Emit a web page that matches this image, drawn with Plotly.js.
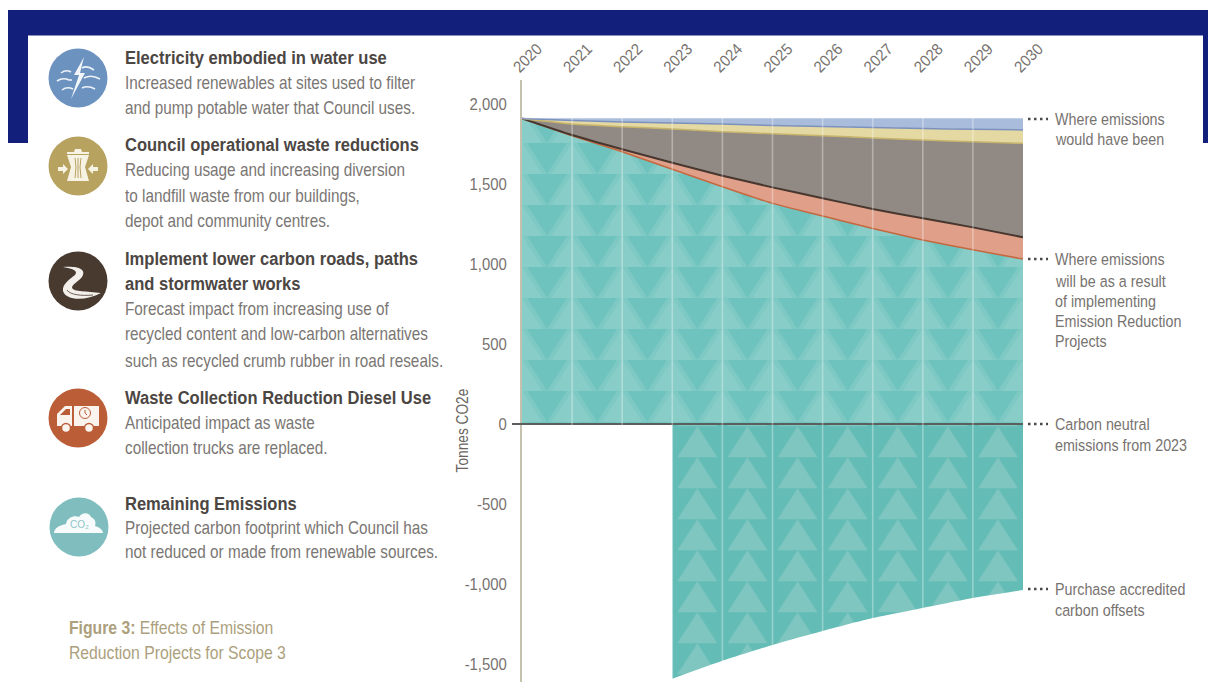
<!DOCTYPE html>
<html>
<head>
<meta charset="utf-8">
<title>Effects of Emission Reduction Projects for Scope 3</title>
<script src="https://cdn.plot.ly/plotly-3.0.1.min.js"></script>
<style>html,body{margin:0;padding:0;background:#fff;overflow:hidden}</style>
</head>
<body>
<div id="chart" style="width:1208px;height:682px"></div>
<script>
// Emission series, tonnes CO2e per year
const years = [2020, 2021, 2022, 2023, 2024, 2025, 2026, 2027, 2028, 2029, 2030];
const remainingEmissions = [1910, 1802, 1702, 1592, 1483, 1379, 1300, 1222, 1150, 1089, 1031];
const wasteCollection = [0, 4, 15, 41, 69, 100, 111, 122, 136, 140, 136];
const lowerCarbonRoads = [0, 69, 141, 211, 275, 335, 391, 444, 489, 535, 587];
const operationalWaste = [0, 22, 30, 37, 48, 52, 57, 65, 72, 78, 84];
const waterElectricity = [0, 13, 22, 29, 35, 44, 51, 57, 63, 68, 72];
const offsetYears = [2023, 2024, 2025, 2026, 2027, 2028, 2029, 2030];
const carbonOffsets = [-1592, -1480, -1381, -1294, -1213, -1150, -1088, -1038];

const yTickValues = [-1500, -1000, -500, 0, 500, 1000, 1500, 2000];
const yTickLabels = ['-1,500', '-1,000', '-500', '0', '500', '1,000', '1,500', '2,000'];

const legendHeadings = [
  'Electricity embodied in water use',
  'Council operational waste reductions',
  'Implement lower carbon roads, paths',
  'and stormwater works',
  'Waste Collection Reduction Diesel Use',
  'Remaining Emissions'
];
const legendBody = [
  'Increased renewables at sites used to filter',
  'and pump potable water that Council uses.',
  'Reducing usage and increasing diversion',
  'to landfill waste from our buildings,',
  'depot and community centres.',
  'Forecast impact from increasing use of',
  'recycled content and low-carbon alternatives',
  'such as recycled crumb rubber in road reseals.',
  'Anticipated impact as waste',
  'collection trucks are replaced.',
  'Projected carbon footprint which Council has',
  'not reduced or made from renewable sources.'
];
const captionLines = ['<b>Figure 3:</b> Effects of Emission', 'Reduction Projects for Scope 3'];
const sideNotes = [
  'Where emissions', 'would have been',
  'Where emissions', 'will be as a result', 'of implementing', 'Emission Reduction', 'Projects',
  'Carbon neutral', 'emissions from 2023',
  'Purchase accredited', 'carbon offsets'
];

// Page geometry
const W = 1208, H = 682;
const M = {l: 522, r: 185, t: 80, b: 0};
const plotW = W - M.l - M.r, plotH = H - M.t - M.b;
const px = x => (x - M.l) / plotW;
const py = y => 1 - (y - M.t) / plotH;

const FONT = '"Liberation Sans", sans-serif';
const NAVY = '#12207b';
const shapes = [];
const annotations = [];
// Horizontal condensing applied to each annotation once it is drawn
const condense = [];

function box(x0, y0, x1, y1, color) {
  shapes.push({type: 'rect', xref: 'paper', yref: 'paper', layer: 'below',
    x0: px(x0), x1: px(x1), y0: py(y0), y1: py(y1), fillcolor: color, line: {width: 0}});
}
function disc(cx, cy, r, fill, stroke, strokeW) {
  shapes.push({type: 'circle', xref: 'paper', yref: 'paper', layer: 'above',
    x0: px(cx - r), x1: px(cx + r), y0: py(cy - r), y1: py(cy + r), fillcolor: fill,
    line: {width: strokeW || 0, color: stroke || fill}});
}
// Icon paths are written around the icon's centre, in pixels
function glyph(cx, cy, d, fill, stroke, strokeW) {
  const path = d.replace(/(-?[\d.]+),(-?[\d.]+)/g, (m, a, b) => px(cx + (+a)) + ',' + py(cy + (+b)));
  shapes.push({type: 'path', xref: 'paper', yref: 'paper', layer: 'above', path,
    fillcolor: fill || 'rgba(0,0,0,0)', line: {width: strokeW || 0, color: stroke || 'rgba(0,0,0,0)'}});
}
function label(text, x, y, size, color, k) {
  annotations.push({text, xref: 'paper', yref: 'paper', x: px(x), y: py(y), xanchor: 'left', yanchor: 'middle',
    align: 'left', showarrow: false, borderpad: 0, font: {family: FONT, size, color}});
  condense.push(k);
}

// Navy frame around the top of the page
box(8, 10, 1208, 35.5, NAVY);
box(8, 35, 28, 143, NAVY);
box(1203, 35, 1208, 143, NAVY);

// Legend text
const headingY = [58, 145, 259, 284, 398, 504];
const bodyY = [83, 108, 170, 196, 221, 309, 334, 361, 423, 448, 528, 552];
legendHeadings.forEach((t, i) => label('<b>' + t + '</b>', 124, headingY[i], 17.5, '#4c4643', 0.945));
legendBody.forEach((t, i) => label(t, 124, bodyY[i], 17.5, '#7a7673', 0.875));
[628, 653].forEach((y, i) => label(captionLines[i], 68, y, 17.5, '#ac9f7d', 0.9));

// Notes to the right of the plot
const noteY = [119, 139, 259, 281, 301, 321, 341, 424, 445, 589, 610];
sideNotes.forEach((t, i) => label(t, 1054, noteY[i], 16.5, '#77736f', 0.868));
[119, 259, 424, 589].forEach(y => shapes.push({type: 'line', xref: 'paper', yref: 'paper', layer: 'above',
  x0: px(1028), x1: px(1048), y0: py(y), y1: py(y), line: {color: '#4a4a4a', width: 2.5, dash: '2.5px,3.5px'}}));

// Axis title, placed level with the zero line
annotations.push({text: 'Tonnes CO2e', xref: 'paper', yref: 'paper', x: px(462), y: py(431), textangle: -90,
  xanchor: 'center', yanchor: 'middle', showarrow: false, borderpad: 0,
  font: {family: FONT, size: 16.5, color: '#696460'}});
condense.push(0.83);

// Zero line, running a little past the axis on the left
shapes.push({type: 'line', xref: 'paper', yref: 'y', layer: 'above', x0: px(512), x1: 1, y0: 0, y1: 0,
  line: {color: '#5b5f5e', width: 2}});
// Year dividers across the filled areas
years.slice(1, -1).forEach(y => shapes.push({type: 'line', xref: 'x', yref: 'paper', layer: 'above',
  x0: y, x1: y, y0: 0, y1: py(118), line: {color: 'rgba(255,255,255,0.33)', width: 1.6}}));

// Icons
const BLUE = '#6c92c0', GOLD = '#b8a260', BROWN = '#493a30', RUST = '#bb5e38', TEAL = '#7fbdbf';
disc(78, 78, 29.5, BLUE);
glyph(78, 78, 'M 6,-21 L -4,-3 L 1,-3 L -7,21 L 7,-5 L 2,-5 Z', '#f2f6fb');
['M -17,-5 Q -12,-9 -7,-6', 'M -21,3 Q -15,-1 -9,2 L -6,2', 'M -16,12 Q -11,8 -5,11',
 'M 4,-10 Q 9,-13 16,-8', 'M 6,0 Q 13,-4 22,1', 'M 4,10 Q 10,7 17,11'].forEach(d => glyph(78, 78, d, null, '#eef3f9', 1.6));

disc(78, 166, 29.5, GOLD);
glyph(78, 166, 'M -11,-11 L 11,-11 L 7,1 L 11,15 L -11,15 L -7,1 Z', '#f6f2e4');
glyph(78, 166, 'M -11,-14 L 11,-14 L 11,-12 L -11,-12 Z M -4,-14 L -3,-17 L 3,-17 L 4,-14 Z', '#f6f2e4');
['M -3,-8 L -2,1 L -3,12', 'M 0,-8 L 0,12', 'M 3,-8 L 2,1 L 3,12'].forEach(d => glyph(78, 166, d, null, GOLD, 1));
glyph(78, 166, 'M -20,1 L -15,1 L -15,-2 L -10,3 L -15,8 L -15,5 L -20,5 Z', '#f6f2e4');
glyph(78, 166, 'M 20,1 L 15,1 L 15,-2 L 10,3 L 15,8 L 15,5 L 20,5 Z', '#f6f2e4');

disc(78, 281, 29.5, BROWN);
glyph(78, 281, 'M -15,-14 C 0,-15 9,-12 4,-4 C 0,1 -6,3 -6,7 C -4,11 8,10 23,12 C 8,20 -12,20 -15,10 C -16,3 -8,-2 -3,-6 C 0,-10 -4,-12 -15,-14 Z', '#f3f0ec');
glyph(78, 281, 'M -11,9 C -8,14 4,15 15,14', null, BROWN, 0.8);

disc(78, 418, 29.5, RUST);
glyph(78, 418, 'M -21,8 L -21,-4 L -13,-12 L -6,-12 L -6,8 Z M -4,-12 L 21,-12 L 21,8 L -4,8 Z', '#fbf3ee');
glyph(78, 418, 'M -18,-3 L -12,-9 L -8,-9 L -8,-3 Z', RUST);
disc(85, 413, 5.5, 'rgba(0,0,0,0)', RUST, 1);
glyph(85, 413, 'M 0,-3 L 0,0 L 2,2', null, RUST, 1);
disc(66, 428, 4.5, '#fbf3ee', RUST, 1.5);
disc(89, 428, 4.5, '#fbf3ee', RUST, 1.5);

disc(79, 527, 29.5, TEAL);
glyph(79, 527, 'M -25,6 C -25,1 -19,-2 -13,-3 C -12,-10 -4,-12 0,-10 C 3,-15 10,-15 12,-10 C 17,-8 17,-3 16,-1 C 20,0 24,3 24,6 Z', '#f7fbfb');
annotations.push({text: 'CO₂', xref: 'paper', yref: 'paper', x: px(79), y: py(524), xanchor: 'center', yanchor: 'middle',
  showarrow: false, borderpad: 0, font: {family: FONT, size: 10, color: '#8fc4c6'}});
condense.push(1);

// Stacked emission wedges; each trace's outline is the lower edge of the band above it
const stackTrace = (y, fill, edge, width) => ({
  x: years, y, type: 'scatter', mode: 'lines', stackgroup: 'emissions', fillcolor: fill,
  line: {color: edge, width: width, shape: 'spline', smoothing: 0.5}, hoverinfo: 'skip'
});
const traces = [
  stackTrace(remainingEmissions, '#7fc9c4', '#c4683f', 1.5),
  stackTrace(wasteCollection, '#df9f89', '#47372e', 2),
  stackTrace(lowerCarbonRoads, '#918a84', '#c6b36c', 1.5),
  stackTrace(operationalWaste, '#e4d9a2', '#7c91bd', 1.5),
  stackTrace(waterElectricity, '#a9bcdb', '#a9bcdb', 0.5),
  {x: offsetYears, y: carbonOffsets, type: 'scatter', mode: 'lines', fill: 'tozeroy',
   fillcolor: '#63bcb5', line: {width: 0, color: '#63bcb5', shape: 'spline', smoothing: 0.5}, hoverinfo: 'skip'}
];

const layout = {
  width: W, height: H, autosize: false, margin: M, showlegend: false, hovermode: false,
  paper_bgcolor: '#ffffff', plot_bgcolor: 'rgba(0,0,0,0)',
  font: {family: FONT},
  xaxis: {range: [2020, 2030], side: 'top', tickmode: 'array', tickvals: years, ticktext: years.map(String),
    tickangle: -45, ticks: '', showgrid: false, zeroline: false, showline: false, anchor: 'y',
    ticklabelshift: -8, ticklabelstandoff: 0, tickfont: {family: FONT, size: 16, color: '#77736f'}},
  yaxis: {range: [-1612.5, 2150], tickmode: 'array', tickvals: yTickValues, ticktext: yTickLabels,
    ticks: '', showgrid: false, zeroline: false, showline: true, linecolor: '#c4c1ae', linewidth: 2,
    ticklabelstandoff: 10, tickfont: {family: FONT, size: 16, color: '#77736f'}},
  shapes, annotations
};

// Triangle textures for the teal areas; tiles line up with the year columns
const SVGNS = 'http://www.w3.org/2000/svg';
function addPattern(defs, id, yOffset, bg, polys) {
  const tileW = plotW / 10, tileH = 31;
  const p = document.createElementNS(SVGNS, 'pattern');
  p.setAttribute('id', id);
  p.setAttribute('patternUnits', 'userSpaceOnUse');
  p.setAttribute('width', tileW);
  p.setAttribute('height', tileH);
  p.setAttribute('y', yOffset);
  const r = document.createElementNS(SVGNS, 'rect');
  r.setAttribute('width', tileW); r.setAttribute('height', tileH); r.setAttribute('fill', bg);
  p.appendChild(r);
  polys.forEach(([pts, color]) => {
    const s = document.createElementNS(SVGNS, 'polygon');
    s.setAttribute('points', pts); s.setAttribute('fill', color);
    p.appendChild(s);
  });
  defs.appendChild(p);
}

// Narrows a text element about its anchor, keeping any rotation it already has
function narrow(el, k) {
  const x = +el.getAttribute('x') || 0;
  const prior = el.getAttribute('transform') || '';
  el.setAttribute('transform', `${prior} translate(${x},0) scale(${k},1) translate(${-x},0)`);
}

const gd = document.getElementById('chart');
Plotly.newPlot(gd, traces, layout, {displayModeBar: false, staticPlot: true}).then(() => {
  const svg = gd.querySelector('.main-svg');
  let defs = svg.querySelector('defs');
  if (!defs) { defs = document.createElementNS(SVGNS, 'defs'); svg.insertBefore(defs, svg.firstChild); }
  const tw = plotW / 10, mid = tw / 2;
  addPattern(defs, 'tri-down', (360 - M.t) % 31, '#7fc9c4', [
    [`0,0 20,31 0,31`, '#88cdc8'],
    [`${tw},0 ${tw - 20},31 ${tw},31`, '#88cdc8'],
    [`${mid - 20},0 ${mid + 20},0 ${mid},31`, '#6fc3be']
  ]);
  addPattern(defs, 'tri-up', (426.3 - M.t) % 31, '#63bcb5', [
    [`${mid},0 ${mid + 20},31 ${mid - 20},31`, '#7fc6c1']
  ]);
  const fills = gd.querySelectorAll('.scatterlayer .trace');
  fills[0].querySelector('.js-fill').style.fill = 'url(#tri-down)';
  fills[fills.length - 1].querySelector('.js-fill').style.fill = 'url(#tri-up)';

  gd.querySelectorAll('.annotation').forEach(a => {
    const k = condense[+a.getAttribute('data-index')];
    const t = a.querySelector('.annotation-text');
    if (t && k !== 1) narrow(t, k);
  });
  gd.querySelectorAll('.xtick text, .ytick text').forEach(t => narrow(t, 0.93));
});
</script>
</body>
</html>
